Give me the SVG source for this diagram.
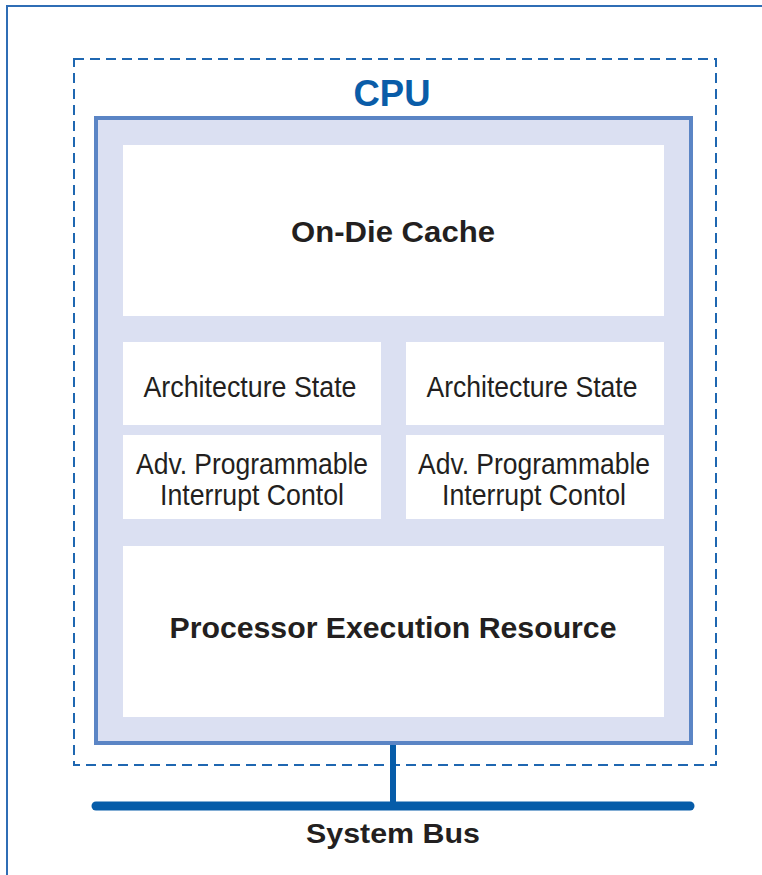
<svg xmlns="http://www.w3.org/2000/svg" width="762" height="875" viewBox="0 0 762 875">
<style>
.frame{fill:none;stroke:#2f6db5;stroke-width:2}
.dash{fill:none;stroke:#1f67b1;stroke-width:2;stroke-dasharray:10 6}
.cpu{fill:#dbe0f2;stroke:#5b85c5;stroke-width:4}
.box{fill:#ffffff}
.bold{font-family:"Liberation Sans",Arial,sans-serif;font-weight:bold;fill:#231f20;text-anchor:middle}
.light{font-family:"Liberation Sans",Arial,sans-serif;fill:#231f20;text-anchor:middle;font-size:30px}
.bus{stroke:#065ca9;fill:none;stroke-linecap:round}
</style>
<rect width="762" height="875" fill="#ffffff"/>
<path class="frame" d="M7,875 V6 H762"/>
<rect class="dash" x="74" y="59" width="642" height="706"/>
<text x="392" y="106" font-family="Liberation Sans,Arial,sans-serif" font-weight="bold" font-size="37" fill="#0a5ca8" text-anchor="middle" textLength="77" lengthAdjust="spacingAndGlyphs">CPU</text>
<g id="connectors">
<line class="bus" x1="393" y1="743" x2="393" y2="806" stroke-width="6" stroke-linecap="butt"/>
<line class="bus" x1="96" y1="806" x2="690" y2="806" stroke-width="9"/>
</g>
<g id="cpu">
<rect class="cpu" x="96" y="118" width="595" height="625"/>
</g>
<g id="cache">
<rect class="box" x="123" y="145" width="541" height="171"/>
<text class="bold" x="393" y="242" font-size="29" textLength="204" lengthAdjust="spacingAndGlyphs">On-Die Cache</text>
</g>
<g id="arch1">
<rect class="box" x="123" y="342" width="258" height="83"/>
<text class="light" x="250" y="397" textLength="213" lengthAdjust="spacingAndGlyphs">Architecture State</text>
</g>
<g id="arch2">
<rect class="box" x="406" y="342" width="258" height="83"/>
<text class="light" x="532" y="397" textLength="211" lengthAdjust="spacingAndGlyphs">Architecture State</text>
</g>
<g id="apic1">
<rect class="box" x="123" y="435" width="258" height="84"/>
<text class="light" x="252" y="474" textLength="232" lengthAdjust="spacingAndGlyphs">Adv. Programmable</text>
<text class="light" x="252" y="505" textLength="184" lengthAdjust="spacingAndGlyphs">Interrupt Contol</text>
</g>
<g id="apic2">
<rect class="box" x="406" y="435" width="258" height="84"/>
<text class="light" x="534" y="474" textLength="232" lengthAdjust="spacingAndGlyphs">Adv. Programmable</text>
<text class="light" x="534" y="505" textLength="184" lengthAdjust="spacingAndGlyphs">Interrupt Contol</text>
</g>
<g id="exec">
<rect class="box" x="123" y="546" width="541" height="171"/>
<text class="bold" x="393" y="638" font-size="29" textLength="447" lengthAdjust="spacingAndGlyphs">Processor Execution Resource</text>
</g>
<g id="bus-label">
<text class="bold" x="393" y="843" font-size="28" textLength="174" lengthAdjust="spacingAndGlyphs">System Bus</text>
</g>
</svg>
